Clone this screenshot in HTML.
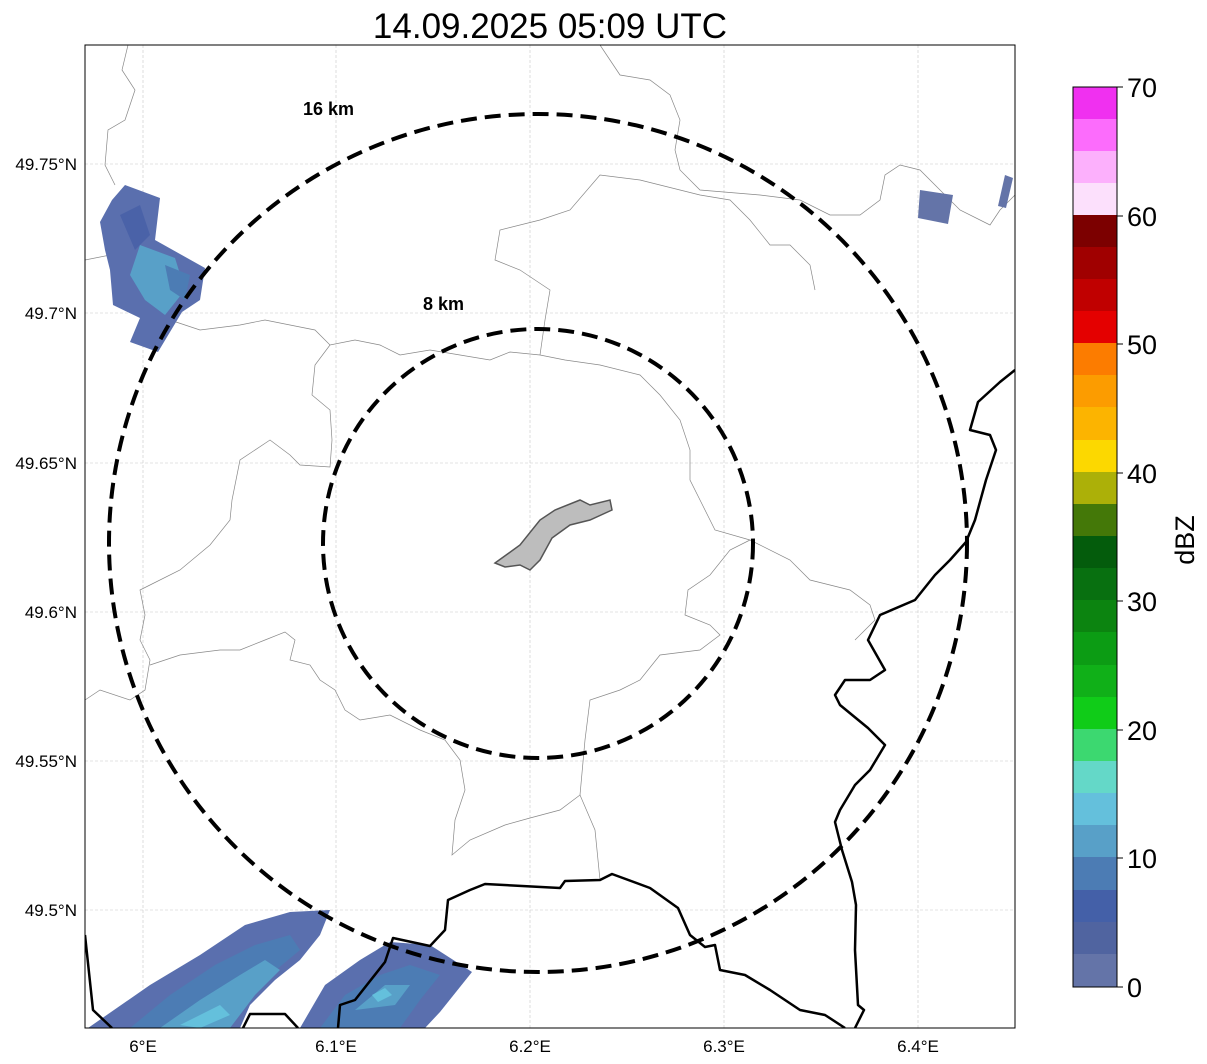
<!DOCTYPE html>
<html><head><meta charset="utf-8"><style>
body{margin:0;background:#fff;}
svg{display:block;font-family:"Liberation Sans",sans-serif;}
</style></head><body>
<svg width="1207" height="1064" viewBox="0 0 1207 1064" xmlns="http://www.w3.org/2000/svg">
<defs><clipPath id="c"><rect x="85" y="45" width="930" height="983"/></clipPath></defs>
<text x="550" y="38" font-size="35" text-anchor="middle">14.09.2025 05:09 UTC</text>
<g clip-path="url(#c)">
<g stroke="#c8c8c8" stroke-width="0.6" stroke-dasharray="3,2">
<line x1="143" y1="45" x2="143" y2="1028"/><line x1="336" y1="45" x2="336" y2="1028"/><line x1="530" y1="45" x2="530" y2="1028"/><line x1="724" y1="45" x2="724" y2="1028"/><line x1="918" y1="45" x2="918" y2="1028"/>
<line x1="85" y1="164" x2="1015" y2="164"/><line x1="85" y1="313" x2="1015" y2="313"/><line x1="85" y1="463" x2="1015" y2="463"/><line x1="85" y1="612" x2="1015" y2="612"/><line x1="85" y1="761" x2="1015" y2="761"/><line x1="85" y1="910" x2="1015" y2="910"/>
</g>
<g fill="none" stroke="#888" stroke-width="0.7">
<path d="M128,45 L122,70 L135,90 L125,120 L108,130 L105,165 L115,185"/>
<path d="M85,260 L110,255 L125,280 L140,300 L170,320 L200,330 L240,325 L265,320 L290,325 L315,330 L330,345 L355,340 L380,345 L400,355 L430,350 L460,355 L490,360 L510,352 L540,355 L565,360 L600,365 L640,375 L660,395 L680,420 L690,450 L690,480 L700,500 L715,530 L750,540"/>
<path d="M330,345 L315,365 L312,395 L330,410 L332,440 L330,467 L300,465 L290,455 L270,440 L240,460 L232,500 L230,520 L210,545 L180,570 L150,585 L140,590 L145,615 L140,640 L150,660 L145,690 L130,700 L100,690 L85,700"/>
<path d="M150,665 L180,655 L220,650 L240,650 L265,640 L285,632 L295,640 L290,660 L310,665 L320,680 L335,690 L345,710 L360,720 L390,715 L420,730 L445,740 L460,760 L465,790 L455,820 L452,855 L470,840 L505,825 L530,818 L560,810 L580,795 L595,830 L600,880"/>
<path d="M540,355 L545,320 L550,290 L520,270 L495,260 L500,230 L540,220 L570,210 L600,175 L640,180 L680,190 L700,195 L730,200 L750,220 L770,245 L790,245 L810,265 L815,290"/>
<path d="M600,45 L610,60 L620,75 L650,80 L670,95 L680,120 L675,150 L680,170 L700,190 L760,195 L800,200 L830,215 L860,215 L880,200 L885,175 L900,165 L920,170 L940,190 L960,210 L990,225 L1000,210 L1015,195"/>
<path d="M750,540 L730,550 L710,575 L688,590 L685,615 L710,625 L720,635 L700,650 L660,655 L640,680 L620,690 L590,700 L585,740 L580,795"/>
<path d="M750,540 L790,560 L810,580 L850,590 L870,605 L875,620 L855,640"/>
</g>
<g>
<polygon points="100,222 112,200 125,185 160,198 155,240 205,268 200,300 182,312 158,352 130,342 140,318 113,305 110,270 105,250" fill="#5a6fae"/>
<polygon points="120,215 140,205 150,235 135,250" fill="#4a62a8"/>
<polygon points="140,245 175,258 185,290 165,315 145,300 130,275" fill="#58a0c8"/>
<polygon points="165,265 190,275 185,300 170,290" fill="#4c7cb4"/>
<polygon points="920,190 953,195 948,224 918,218" fill="#6474a8"/>
<polygon points="1005,175 1013,178 1006,208 998,206" fill="#6474a8"/>
<polygon points="88,1028 150,985 200,955 245,925 290,912 330,910 320,935 300,960 275,980 250,1005 240,1028" fill="#5a6fae"/>
<polygon points="130,1028 170,995 215,965 255,945 290,935 300,950 270,975 240,1000 225,1028" fill="#4c7cb4"/>
<polygon points="160,1028 200,1000 240,975 265,960 280,970 255,995 230,1028" fill="#58a0c8"/>
<polygon points="180,1025 220,1005 230,1015 200,1028" fill="#64c0dc"/>
<polygon points="300,1028 325,985 360,960 390,942 430,945 472,972 440,1012 425,1028" fill="#5a6fae"/>
<polygon points="320,1028 345,995 380,975 410,965 440,975 420,1000 400,1028" fill="#4c7cb4"/>
<polygon points="355,1010 385,985 410,985 395,1005" fill="#58a0c8"/>
<polygon points="372,995 385,988 392,995 378,1002" fill="#64c0dc"/>
</g>
<polygon points="495,563 520,545 540,520 555,510 580,500 590,505 610,500 612,510 590,520 570,525 552,538 540,560 530,570 520,565 505,567" fill="#bdbdbd" stroke="#555" stroke-width="1.5"/>
<g fill="none" stroke="#000" stroke-width="2.5" stroke-linejoin="round">
<path d="M1015,370 L1000,382 L978,402 L970,430 L990,435 L996,450 L986,480 L975,520 L966,542 L950,560 L935,575 L915,600 L880,615 L868,640 L885,670 L870,680 L845,680 L835,695 L840,705 L868,728 L885,745 L870,770 L855,785 L840,810 L835,822 L842,850 L852,882 L856,905 L855,950 L858,1005 L864,1010 L855,1028"/>
<path d="M338,1028 L340,1005 L355,1000 L385,962 L393,938 L430,946 L445,930 L448,900 L470,890 L485,884 L560,888 L565,881 L600,880 L612,874 L650,888 L678,908 L690,935 L705,947 L715,945 L720,970 L745,975 L770,990 L800,1010 L825,1015 L845,1028"/>
<path d="M85,935 L93,1010 L112,1028"/>
<path d="M243,1028 L250,1014 L285,1014 L298,1028"/>
</g>
<g fill="none" stroke="#000" stroke-width="4" stroke-dasharray="16,8">
<ellipse cx="538" cy="543" rx="429" ry="429"/>
<ellipse cx="538" cy="543.5" rx="215" ry="214.5"/>
</g>
<text x="303" y="115" font-size="18" font-weight="bold">16 km</text>
<text x="423" y="310" font-size="18" font-weight="bold">8 km</text>
</g>
<rect x="85" y="45" width="930" height="983" fill="none" stroke="#000" stroke-width="1"/>
<g font-size="17" text-anchor="middle">
<text x="143" y="1052">6°E</text><text x="336" y="1052">6.1°E</text><text x="530" y="1052">6.2°E</text><text x="724" y="1052">6.3°E</text><text x="918" y="1052">6.4°E</text>
</g>
<g font-size="17" text-anchor="end">
<text x="77" y="170">49.75°N</text><text x="77" y="319">49.7°N</text><text x="77" y="469">49.65°N</text><text x="77" y="618">49.6°N</text><text x="77" y="767">49.55°N</text><text x="77" y="916">49.5°N</text>
</g>
<g>
<rect x="1073" y="87" width="44" height="33" fill="#f030f0"/>
<rect x="1073" y="119" width="44" height="33" fill="#fc6cfc"/>
<rect x="1073" y="151" width="44" height="33" fill="#fcb0fc"/>
<rect x="1073" y="183" width="44" height="33" fill="#fce0fc"/>
<rect x="1073" y="215" width="44" height="33" fill="#7c0000"/>
<rect x="1073" y="247" width="44" height="33" fill="#a00000"/>
<rect x="1073" y="279" width="44" height="33" fill="#c00000"/>
<rect x="1073" y="311" width="44" height="33" fill="#e40000"/>
<rect x="1073" y="343" width="44" height="33" fill="#fc7c00"/>
<rect x="1073" y="375" width="44" height="33" fill="#fc9c00"/>
<rect x="1073" y="407" width="44" height="33" fill="#fcb400"/>
<rect x="1073" y="440" width="44" height="33" fill="#fcd800"/>
<rect x="1073" y="472" width="44" height="33" fill="#acb008"/>
<rect x="1073" y="504" width="44" height="33" fill="#447808"/>
<rect x="1073" y="536" width="44" height="33" fill="#045c0c"/>
<rect x="1073" y="568" width="44" height="33" fill="#087010"/>
<rect x="1073" y="600" width="44" height="33" fill="#0c8410"/>
<rect x="1073" y="632" width="44" height="34" fill="#0c9c14"/>
<rect x="1073" y="665" width="44" height="33" fill="#10b018"/>
<rect x="1073" y="697" width="44" height="33" fill="#10cc18"/>
<rect x="1073" y="729" width="44" height="33" fill="#3cd870"/>
<rect x="1073" y="761" width="44" height="33" fill="#64d8c8"/>
<rect x="1073" y="793" width="44" height="33" fill="#64c0dc"/>
<rect x="1073" y="825" width="44" height="33" fill="#58a0c8"/>
<rect x="1073" y="857" width="44" height="34" fill="#4c7cb4"/>
<rect x="1073" y="890" width="44" height="33" fill="#4460a8"/>
<rect x="1073" y="922" width="44" height="33" fill="#5064a0"/>
<rect x="1073" y="954" width="44" height="33" fill="#6474a8"/>
<rect x="1073" y="87" width="44" height="900" fill="none" stroke="#000" stroke-width="1"/>
</g>
<g stroke="#000" stroke-width="1">
<line x1="1117" y1="87" x2="1123" y2="87"/><line x1="1117" y1="216" x2="1123" y2="216"/><line x1="1117" y1="344" x2="1123" y2="344"/><line x1="1117" y1="473" x2="1123" y2="473"/><line x1="1117" y1="601" x2="1123" y2="601"/><line x1="1117" y1="730" x2="1123" y2="730"/><line x1="1117" y1="858" x2="1123" y2="858"/><line x1="1117" y1="987" x2="1123" y2="987"/>
</g>
<g font-size="27">
<text x="1127" y="97">70</text><text x="1127" y="226">60</text><text x="1127" y="354">50</text><text x="1127" y="483">40</text><text x="1127" y="611">30</text><text x="1127" y="740">20</text><text x="1127" y="868">10</text><text x="1127" y="997">0</text>
</g>
<text transform="translate(1194,540) rotate(-90)" font-size="27" text-anchor="middle">dBZ</text>
</svg>
</body></html>
